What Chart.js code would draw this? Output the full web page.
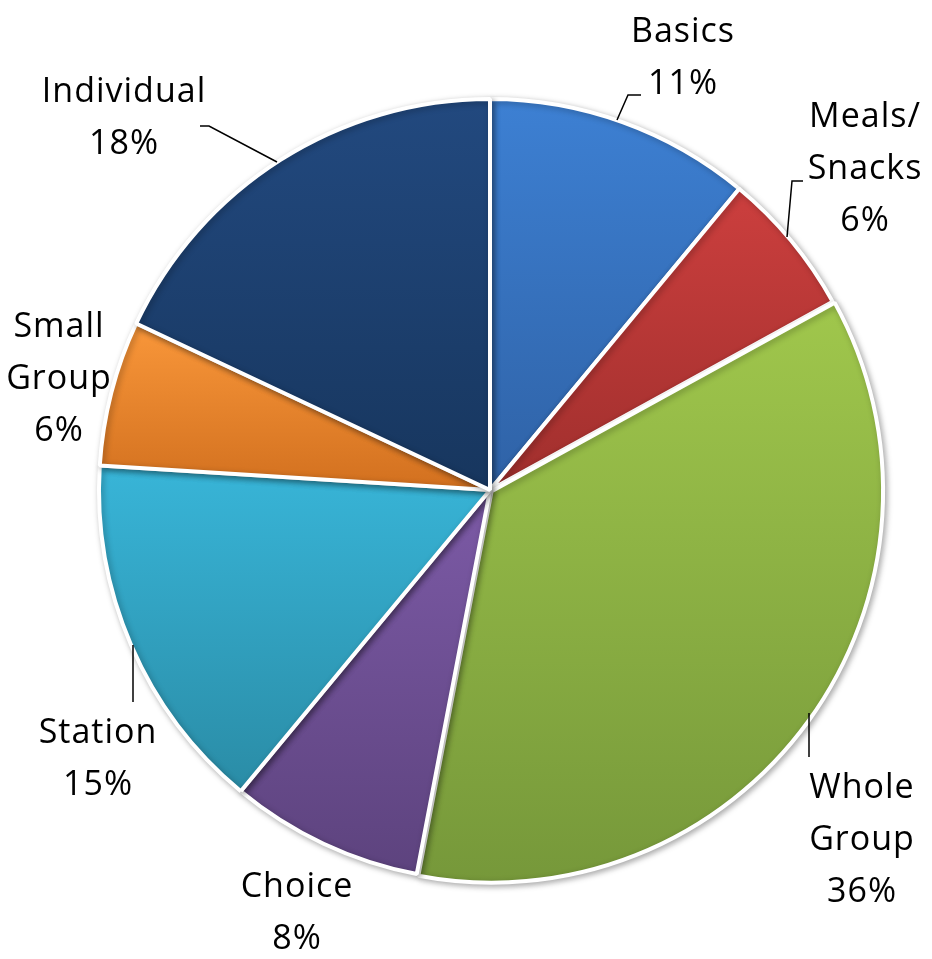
<!DOCTYPE html>
<html>
<head>
<meta charset="utf-8">
<script src="https://cdn.jsdelivr.net/npm/chart.js@4.4.1/dist/chart.umd.min.js"></script>
<style>
body{margin:0;background:#fff}
#wrap{width:932px;height:959px;position:relative}
</style>
</head>
<body>
<div id="wrap"><canvas id="pie"></canvas></div>
<script>

const categories = ["Basics","Meals/Snacks","Whole Group","Choice","Station","Small Group","Individual"]
const values = [11,6,36,8,15,6,18]

const topColors = ["#3d80d3","#cc3f3e","#a0c74c","#7c5aa6","#38b5d8","#f9973a","#22497f"]
const bottomColors = ["#2f62a6","#a02f2d","#76983a","#5d437e","#2a8ca6","#d2701f","#17365e"]

// the big slice is pulled out a touch
const sliceOffsets = [0,0,8,0,0,0,0]

// where each label sits: centre x, first baseline, and its leader line
const labelLayout = [
{x:683,y:42,line:[[617,120],[628,95],[641,95]]},
{x:865,y:127,line:[[787,237],[792,181],[803,181]]},
{x:862,y:798,line:[[809,713],[809,757]]},
{x:297,y:897,line:null},
{x:98,y:743,line:[[133,645],[133,702]]},
{x:59,y:337,line:null},
{x:124,y:102,line:[[277,162],[209,126],[200,126]]}
]

const pieRadius = 391
const lineHeight = 52

const total = values.reduce((a,b)=>a+b,0)

function sliceFill(c){

const i = c.dataIndex
const area = c.chart.chartArea
if(!area) return topColors[i]

const cx = (area.left+area.right)/2
const cy = (area.top+area.bottom)/2
const before = values.slice(0,i).reduce((a,b)=>a+b,0)
const a0 = before/total*2*Math.PI - Math.PI/2
const a1 = (before+values[i])/total*2*Math.PI - Math.PI/2

const ys = [cy, cy+pieRadius*Math.sin(a0), cy+pieRadius*Math.sin(a1)]
if(a0<Math.PI/2 && a1>Math.PI/2) ys.push(cy+pieRadius)

const g = c.chart.ctx.createLinearGradient(0,Math.min(...ys),0,Math.max(...ys))
g.addColorStop(0,topColors[i])
g.addColorStop(1,bottomColors[i])
return g

}

function labelLines(name){
return name.replace("/","/ ").split(" ").filter(s=>s.length)
}

const shadowPlugin = {
id:"shadow",
beforeDatasetsDraw(chart){
const ctx = chart.ctx
ctx.save()
ctx.shadowColor = "rgba(0,0,0,0.3)"
ctx.shadowBlur = 6
ctx.shadowOffsetX = 2
ctx.shadowOffsetY = 2
},
afterDatasetsDraw(chart){
chart.ctx.restore()
}
}

const labelPlugin = {
id:"pieLabels",
afterDraw(chart){

const ctx = chart.ctx
ctx.save()

ctx.strokeStyle = "#000"
ctx.lineWidth = 1.5
labelLayout.forEach(l=>{
if(!l.line) return
ctx.beginPath()
l.line.forEach((p,k)=>k ? ctx.lineTo(p[0],p[1]) : ctx.moveTo(p[0],p[1]))
ctx.stroke()
})

ctx.fillStyle = "#000"
ctx.font = "34px 'Open Sans'"
ctx.letterSpacing = "1px"
ctx.textAlign = "center"
ctx.textBaseline = "alphabetic"

categories.forEach((name,i)=>{
const pct = Math.round(values[i]/total*100)+"%"
const lines = labelLines(name).concat([pct])
const l = labelLayout[i]
lines.forEach((t,k)=>ctx.fillText(t,l.x,l.y+k*lineHeight))
})

ctx.restore()

}
}

new Chart(document.getElementById("pie"),{

type:"pie",

data:{
labels:categories,
datasets:[{
data:values,
backgroundColor:sliceFill,
borderColor:"#ffffff",
borderWidth:4,
offset:sliceOffsets
}]
},

options:{
responsive:true,
maintainAspectRatio:false,
animation:false,
radius:pieRadius,
layout:{padding:{left:100,right:52,top:100,bottom:79}},
plugins:{
legend:{display:false},
tooltip:{enabled:false}
}
},

plugins:[shadowPlugin,labelPlugin]

})

</script>
</body>
</html>
